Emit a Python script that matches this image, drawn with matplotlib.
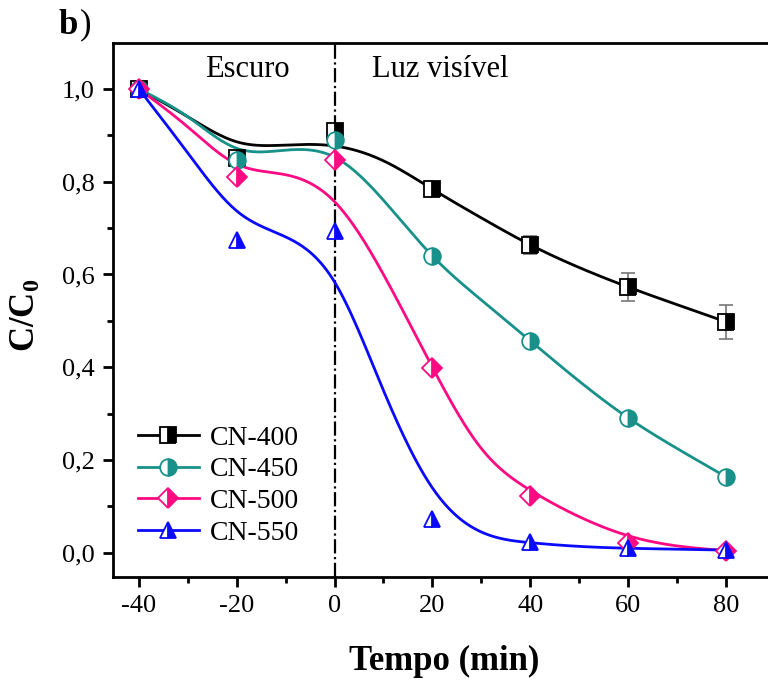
import numpy as np
import matplotlib
matplotlib.use("Agg")
import matplotlib.pyplot as plt
from matplotlib.lines import Line2D
from matplotlib.ticker import MultipleLocator, FuncFormatter

plt.rcParams['font.family'] = ['Liberation Serif', 'DejaVu Serif']
plt.rcParams['mathtext.fontset'] = 'custom'
plt.rcParams['mathtext.rm'] = 'Liberation Serif'
plt.rcParams['mathtext.bf'] = 'Liberation Serif:bold'

# Measured points
t = [-40, -20, 0, 20, 40, 60, 80]
cn400 = [1.0, 0.851, 0.909, 0.784, 0.664, 0.573, 0.498]
cn400_err = [0.0, 0.008, 0.01, 0.008, 0.02, 0.03, 0.037]
cn450 = [1.0, 0.847, 0.890, 0.640, 0.457, 0.291, 0.164]
cn500 = [1.0, 0.810, 0.847, 0.399, 0.123, 0.022, 0.004]
cn550 = [1.0, 0.675, 0.694, 0.073, 0.024, 0.011, 0.006]

# Fitted (smooth) curves
t_fit = [-40, -30, -20, -10, 0, 10, 20, 30, 40, 50, 60, 70, 80]
fit400 = [1.0, 0.94, 0.886, 0.879, 0.877, 0.845, 0.784, 0.722, 0.664, 0.615, 0.573, 0.535, 0.498]
fit450 = [1.0, 0.94, 0.872, 0.868, 0.853, 0.76, 0.64, 0.545, 0.457, 0.37, 0.291, 0.225, 0.164]
fit500 = [1.0, 0.918, 0.838, 0.815, 0.757, 0.60, 0.40, 0.225, 0.135, 0.078, 0.037, 0.015, 0.005]
fit550 = [1.0, 0.862, 0.737, 0.681, 0.584, 0.35, 0.14, 0.045, 0.022, 0.014, 0.010, 0.008, 0.006]

labels = ['CN-400', 'CN-450', 'CN-500', 'CN-550']
colors = ['#000000', '#17918a', '#ff0a83', '#0a0aff']
markers = ['s', 'o', 'D', '^']


def natural_spline(x, y, xs):
    x = np.asarray(x, float)
    y = np.asarray(y, float)
    n = len(x)
    h = np.diff(x)
    A = np.zeros((n, n))
    r = np.zeros(n)
    A[0, 0] = A[-1, -1] = 1
    for i in range(1, n - 1):
        A[i, i - 1] = h[i - 1]
        A[i, i] = 2 * (h[i - 1] + h[i])
        A[i, i + 1] = h[i]
        r[i] = 3 * ((y[i + 1] - y[i]) / h[i] - (y[i] - y[i - 1]) / h[i - 1])
    c = np.linalg.solve(A, r)
    b = (np.diff(y) / h) - h * (2 * c[:-1] + c[1:]) / 3
    d = np.diff(c) / (3 * h)
    idx = np.clip(np.searchsorted(x, xs) - 1, 0, n - 2)
    dx = xs - x[idx]
    return y[idx] + b[idx] * dx + c[idx] * dx ** 2 + d[idx] * dx ** 3


fig = plt.figure(figsize=(7.68, 6.81), dpi=100)
ax = fig.add_axes([0.147, 0.1527, 0.862, 0.7842])

xs = np.linspace(-40, 80, 400)
series = [cn400, cn450, cn500, cn550]
fits = [fit400, fit450, fit500, fit550]

ax.axvline(0, color='black', lw=1.6, ls='-.', zorder=1)

for f, c in zip(fits, colors):
    ax.plot(xs, natural_spline(t_fit, f, xs), color=c, lw=2.0, zorder=2)

ax.errorbar(t, cn400, yerr=cn400_err, fmt='none', ecolor='#777777',
            elinewidth=1.2, capsize=5, capthick=1.2, zorder=3)

sizes = {'s': 11, 'o': 12, 'D': 10, '^': 12}
handles = []
for s, c, m, lab in zip(series, colors, markers, labels):
    ms = sizes[m]
    ax.plot(t, s, ls='none', marker=m, ms=ms, fillstyle='right',
            markerfacecolor=c, markerfacecoloralt='white',
            markeredgecolor=c, markeredgewidth=1.3, zorder=4)
    handles.append(Line2D([], [], color=c, lw=2.0, marker=m, ms=ms,
                          fillstyle='right', markerfacecolor=c,
                          markerfacecoloralt='white', markeredgecolor=c,
                          markeredgewidth=1.3, label=lab))

ax.set_xlim(-45.3, 90)
ax.set_ylim(-0.052, 1.099)
ax.xaxis.set_major_locator(MultipleLocator(20))
ax.xaxis.set_minor_locator(MultipleLocator(10))
ax.yaxis.set_major_locator(MultipleLocator(0.2))
ax.yaxis.set_minor_locator(MultipleLocator(0.1))
ax.yaxis.set_major_formatter(FuncFormatter(lambda v, p: f"{v:.1f}".replace('.', ',').replace('-0,0', '0,0')))
ax.xaxis.set_major_formatter(FuncFormatter(lambda v, p: f"{v:.0f}"))
ax.tick_params(which='major', direction='out', length=7, width=2, labelsize=19, pad=6)
ax.tick_params(which='minor', direction='out', length=4, width=2)
ax.tick_params(top=False, right=False)
for sp in ax.spines.values():
    sp.set_linewidth(2)

ax.set_xlabel('Tempo (min)', fontsize=25, fontweight='bold', labelpad=20)
ax.set_ylabel(r'$\mathbf{C/C_0}$', fontsize=25)
ax.yaxis.set_label_coords(-0.106, 0.49)

ax.text(-17.9, 1.041, 'Escuro', fontsize=22, ha='center', va='center')
ax.text(21.7, 1.041, 'Luz visível', fontsize=22, ha='center', va='center')
fig.text(0.076, 0.963, 'b', fontsize=25, fontweight='bold', ha='left', va='center')
fig.text(0.104, 0.963, ')', fontsize=25, ha='left', va='center')

ax.legend(handles=handles, loc='lower left', bbox_to_anchor=(0.0, 0.012),
          frameon=False, fontsize=20, handlelength=2.2, handletextpad=0.4,
          labelspacing=0.22)

fig.savefig('out.png', dpi=100)
